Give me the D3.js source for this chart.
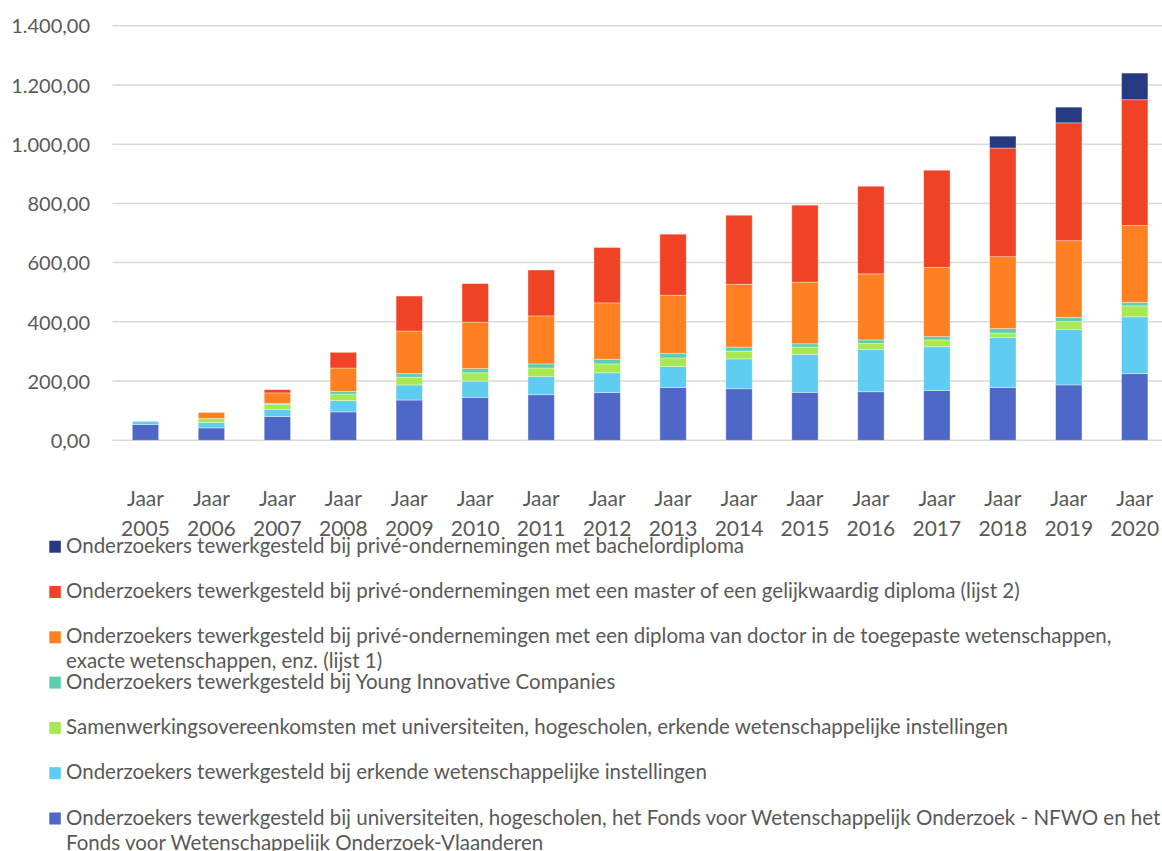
<!DOCTYPE html>
<html>
<head>
<meta charset="utf-8">
<script src="https://cdn.jsdelivr.net/npm/d3@7"></script>
<style>
  html, body { margin: 0; padding: 0; background: #fff; }
  svg { display: block; }
  text { font-family: Lato, "Open Sans", sans-serif; fill: #595959; }
</style>
</head>
<body>
<script>
const years = ["2005","2006","2007","2008","2009","2010","2011","2012","2013","2014","2015","2016","2017","2018","2019","2020"];
const yTicks = [0, 200, 400, 600, 800, 1000, 1200, 1400];

const seriesKeys = ["univ", "erkend", "samenwerking", "yic", "lijst1", "lijst2", "bachelor"];
const seriesLabels = [
  "Onderzoekers tewerkgesteld bij universiteiten, hogescholen, het Fonds voor Wetenschappelijk Onderzoek - NFWO en het Fonds voor Wetenschappelijk Onderzoek-Vlaanderen",
  "Onderzoekers tewerkgesteld bij erkende wetenschappelijke instellingen",
  "Samenwerkingsovereenkomsten met universiteiten, hogescholen, erkende wetenschappelijke instellingen",
  "Onderzoekers tewerkgesteld bij Young Innovative Companies",
  "Onderzoekers tewerkgesteld bij privé-ondernemingen met een diploma van doctor in de toegepaste wetenschappen, exacte wetenschappen, enz. (lijst 1)",
  "Onderzoekers tewerkgesteld bij privé-ondernemingen met een master of een gelijkwaardig diploma (lijst 2)",
  "Onderzoekers tewerkgesteld bij privé-ondernemingen met bachelordiploma"
];
const seriesColors = ["#4F68C8", "#5FCCF2", "#A8E850", "#5BCFB0", "#FF8020", "#F04224", "#253A80"];

const univ         = [53, 42, 80, 96, 136, 145, 154, 161, 178, 174, 162, 164, 168, 178, 187, 225];
const erkend       = [11, 18, 24, 38, 51, 55, 61, 67, 71, 101, 128, 143, 148, 169, 187, 192];
const samenwerking = [0, 14, 17, 22, 26, 28, 29, 30, 29, 26, 25, 20, 23, 15, 27, 37];
const yic          = [0, 0, 4, 9, 12, 14, 14, 16, 16, 14, 11, 12, 11, 15, 14, 12];
const lijst1       = [0, 20, 35, 79, 144, 157, 162, 190, 196, 212, 208, 223, 234, 243, 259, 259];
const lijst2       = [0, 0, 11, 53, 118, 130, 155, 187, 206, 233, 260, 296, 328, 367, 398, 425];
const bachelor     = [0, 0, 0, 0, 0, 0, 0, 0, 0, 0, 0, 0, 0, 40, 53, 90];

const seriesValues = [univ, erkend, samenwerking, yic, lijst1, lijst2, bachelor];

const rows = years.map((y, i) => {
  const r = { year: y };
  seriesKeys.forEach((k, s) => r[k] = seriesValues[s][i]);
  return r;
});

const W = 1162, H = 851;
const svg = d3.select("body").append("svg").attr("width", W).attr("height", H);

const x = d3.scaleBand().domain(years).range([112.5, 1167.7]).paddingInner(0.6).paddingOuter(0.3);
const y = d3.scaleLinear().domain([0, 1400]).range([440.3, 25.7]);

const fmt = v => d3.format(",.2f")(v).replace(/,/g, "#").replace(/\./g, ",").replace(/#/g, ".");

// gridlines
svg.append("g").selectAll("line").data(yTicks).join("line")
  .attr("x1", 112.5).attr("x2", W)
  .attr("y1", d => y(d)).attr("y2", d => y(d))
  .attr("stroke", "#d9d9d9").attr("stroke-width", 1.5);

// y axis labels
const yAxis = d3.axisLeft(y).tickValues(yTicks).tickFormat(fmt).tickSize(0).tickPadding(0);
const yg = svg.append("g").attr("transform", "translate(90,0)").call(yAxis);
yg.select(".domain").remove();
yg.selectAll("text").attr("font-size", 20).style("font-family", "Lato, sans-serif").attr("fill", "#595959").attr("dy", "0.36em");

// stacked bars
const stack = d3.stack().keys(seriesKeys);
const stacked = stack(rows);
svg.append("g").selectAll("g").data(stacked).join("g")
  .attr("fill", (d, i) => seriesColors[i])
  .selectAll("rect").data(d => d).join("rect")
  .attr("x", d => x(d.data.year))
  .attr("width", x.bandwidth())
  .attr("y", d => y(d[1]))
  .attr("height", d => Math.max(0, y(d[0]) - y(d[1])))
  .attr("stroke", "rgba(255,255,255,0.45)").attr("stroke-width", 0.8);

// x labels
const xl = svg.append("g");
years.forEach(yr => {
  const cx = x(yr) + x.bandwidth() / 2;
  const t = xl.append("text").attr("text-anchor", "middle").attr("font-size", 21);
  t.append("tspan").attr("x", cx).attr("y", 506).text("Jaar");
  t.append("tspan").attr("x", cx).attr("y", 535.7).text(yr);
});

// legend (top to bottom reversed order)
const legend = svg.append("g");
const order = d3.range(seriesKeys.length).reverse();
const maxW = 1100;
order.forEach((s, i) => {
  const baseY = 552.7 + i * 45.3;
  legend.append("rect").attr("x", 49.3).attr("y", baseY - 12).attr("width", 11.5).attr("height", 12)
    .attr("fill", seriesColors[s]);
  const t = legend.append("text").attr("font-size", 20.5).attr("x", 66).attr("y", baseY);
  const words = seriesLabels[s].split(" ");
  let line = [];
  let ts = t.append("tspan").attr("x", 66).attr("y", baseY);
  let lineNo = 0;
  words.forEach(w => {
    line.push(w);
    ts.text(line.join(" "));
    if (ts.node().getComputedTextLength() > maxW && line.length > 1) {
      line.pop();
      ts.text(line.join(" "));
      line = [w];
      lineNo++;
      ts = t.append("tspan").attr("x", 66).attr("y", baseY + lineNo * 25).text(w);
    }
  });
});
</script>
</body>
</html>
